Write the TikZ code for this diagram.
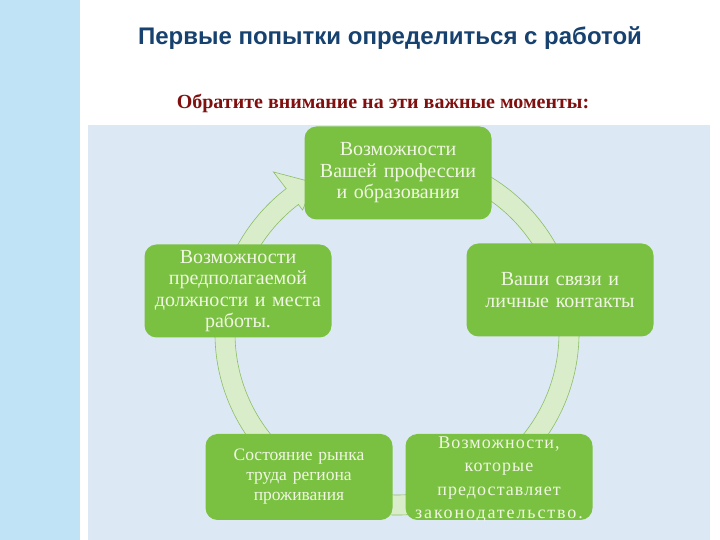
\documentclass[tikz,border=0pt]{standalone}
\usepackage{fontspec}
\setmainfont{Liberation Serif}
\newfontfamily\headfont{Liberation Sans}

\definecolor{stripeblue}{RGB}{192,228,246}
\definecolor{panelblue}{RGB}{221,232,245}
\definecolor{boxgreen}{RGB}{122,193,66}
\definecolor{ringfill}{RGB}{218,237,203}
\definecolor{ringline}{RGB}{140,190,100}
\definecolor{titleblue}{RGB}{23,65,110}
\definecolor{noteRed}{RGB}{128,16,16}
\definecolor{boxtext}{RGB}{240,246,226}

\tikzset{
  stepbox/.style={fill=boxgreen, rounded corners=12pt, minimum width=187pt,
    minimum height=93pt, text width=185pt, align=center, text=boxtext,
    inner sep=0pt, font=\fontsize{20}{21.5}\selectfont},
  lowbox/.style={stepbox, minimum height=86pt},
}

\begin{document}
\begin{tikzpicture}[x=1pt,y=1pt]
 \useasboundingbox (0,0) rectangle (720,540);
 \fill[white] (0,0) rectangle (720,540);
 \fill[stripeblue] (0,0) rectangle (80,540);
 \fill[panelblue] (88,0) rectangle (710,415);

 \node[font=\headfont\bfseries\fontsize{24}{28}\selectfont, text=titleblue] (title) at (390,502) {Первые попытки определиться с работой};
 \node[font=\bfseries\fontsize{20}{24}\selectfont, text=noteRed] (note) at (383,437) {Обратите внимание на эти важные моменты:};

 % ring with one arrow head
 \coordinate (c) at (397,207);
 \filldraw[fill=ringfill, draw=ringline, line width=0.6pt]
  ([shift={(80:182)}]c) arc[start angle=80, end angle=-232.5, radius=182]
  -- ([shift={(-232.5:203)}]c) -- ([shift={(-241:172)}]c) -- ([shift={(-232.5:155)}]c)
  -- ([shift={(-232.5:162)}]c) arc[start angle=-232.5, end angle=80, radius=162] -- cycle;

 \node[stepbox] (prof) at (398,367) {Возможности\\Вашей профессии\\и образования};
 \node[stepbox] (links) at (560,250) {Ваши связи и\\личные контакты};
 \node[lowbox, text height=14.5pt, text depth=71.5pt,
   font=\fontsize{18}{23.3}\selectfont\addfontfeature{LetterSpace=6}] (law) at (499,63)
   {Возможности,\\которые\\предоставляет\\{\addfontfeature{LetterSpace=10.5}законодательство.}};
 \node[lowbox, font=\fontsize{17.5}{20}\selectfont] (market) at (299,63) {Состояние рынка\\труда региона\\проживания};
 \node[stepbox] (post) at (238,249) {Возможности\\предполагаемой\\должности и места\\работы.};
\end{tikzpicture}
\end{document}
